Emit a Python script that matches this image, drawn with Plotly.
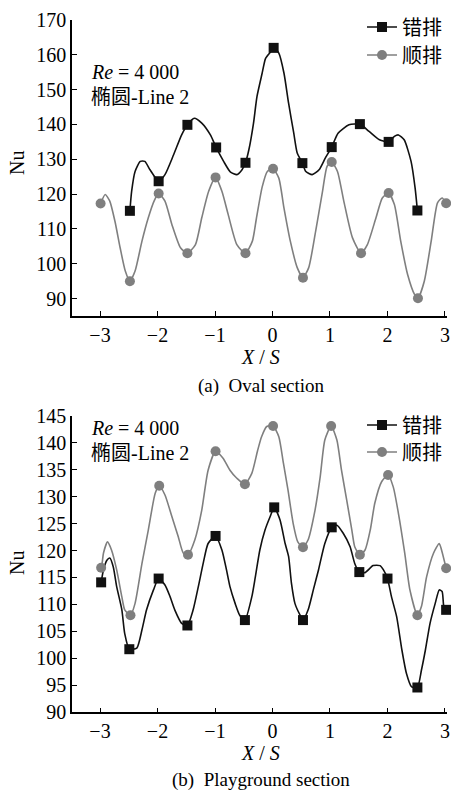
import plotly.graph_objects as go

# ---------------- data ----------------
x_ticks = [-3, -2, -1, 0, 1, 2, 3]

# (a) Oval section - staggered (错排) curve
a_stag_x = [-2.48, -2.45, -2.39, -2.30, -2.22, -2.13, -1.98, -1.87, -1.72, -1.58, -1.48, -1.36, -1.23,
            -1.08, -0.98, -0.85, -0.73, -0.62, -0.53, -0.47, -0.41, -0.33, -0.27, -0.18, -0.12, -0.03,
            0.02, 0.11, 0.20, 0.28, 0.37, 0.43, 0.52, 0.58, 0.69, 0.81, 0.92, 1.03, 1.14, 1.33, 1.52,
            1.68, 1.86, 2.02, 2.12, 2.19, 2.29, 2.41, 2.48, 2.52]
a_stag_y = [115.2, 120.8, 126.5, 129.4, 129.4, 127.0, 123.7, 125.6, 131.3, 137.0, 139.9, 141.8, 140.4,
            137.0, 133.4, 129.4, 126.3, 125.6, 127.0, 129.0, 132.8, 140.4, 148.0, 154.7, 159.0, 160.9,
            162.0, 160.5, 154.7, 146.1, 137.5, 131.8, 128.9, 126.5, 125.6, 127.0, 130.4, 133.5, 137.5, 139.9, 140.1,
            138.0, 135.6, 135.0, 136.6, 137.0, 135.6, 129.4, 121.8, 115.3]
a_stag_mx = [-2.48, -1.98, -1.48, -0.98, -0.47, 0.02, 0.52, 1.03, 1.52, 2.02, 2.52]
a_stag_my = [115.2, 123.7, 139.9, 133.4, 129.0, 162.0, 128.9, 133.5, 140.1, 135.0, 115.3]

# (a) Oval section - inline (顺排) curve
a_inl_x = [-2.99, -2.91, -2.83, -2.74, -2.65, -2.56, -2.48, -2.39, -2.27, -2.16, -2.06, -1.98, -1.87,
           -1.75, -1.60, -1.48, -1.34, -1.23, -1.11, -0.99, -0.88, -0.77, -0.62, -0.47, -0.35, -0.28,
           -0.18, -0.09, 0.01, 0.11, 0.20, 0.31, 0.43, 0.53, 0.63, 0.75, 0.87, 0.95, 1.03, 1.13, 1.24,
           1.39, 1.54, 1.65, 1.80, 1.91, 2.02, 2.12, 2.23, 2.35, 2.47, 2.53, 2.64, 2.76, 2.87, 2.95, 3.02]
a_inl_y = [117.3, 119.9, 118.0, 112.2, 104.6, 97.9, 95.0, 97.9, 106.5, 113.2, 118.0, 120.2, 118.0,
           111.3, 104.6, 103.0, 105.5, 113.2, 120.8, 124.8, 120.8, 114.1, 105.5, 103.0, 106.5, 113.0,
           122.0, 126.5, 127.3, 124.6, 116.0, 106.5, 98.9, 96.0, 98.9, 109.3, 120.8, 128.0, 129.2, 126.5, 118.0,
           107.5, 103.0, 105.5, 113.2, 118.9, 120.3, 117.0, 106.5, 96.9, 91.2, 90.1, 95.0, 106.5, 117.5, 118.9, 117.4]
a_inl_mx = [-2.99, -2.48, -1.98, -1.48, -0.99, -0.47, 0.01, 0.53, 1.03, 1.54, 2.02, 2.53, 3.02]
a_inl_my = [117.3, 95.0, 120.2, 103.0, 124.8, 103.0, 127.3, 96.0, 129.2, 103.0, 120.3, 90.1, 117.4]

# (b) Playground section - staggered (错排)
b_stag_x = [-2.98, -2.94, -2.88, -2.83, -2.77, -2.71, -2.62, -2.57, -2.49, -2.36, -2.27, -2.19, -2.07,
            -1.98, -1.87, -1.78, -1.70, -1.58, -1.48, -1.38, -1.29, -1.20, -1.12, -0.99, -0.88, -0.80,
            -0.74, -0.65, -0.57, -0.48, -0.36, -0.30, -0.22, -0.13, -0.04, 0.03, 0.13, 0.22, 0.28, 0.33,
            0.39, 0.48, 0.53, 0.62, 0.71, 0.80, 0.91, 1.03, 1.12, 1.23, 1.35, 1.43, 1.51, 1.61, 1.75,
            1.87, 1.93, 2.00, 2.07, 2.16, 2.25, 2.33, 2.42, 2.52, 2.59, 2.66, 2.74, 2.83, 2.90, 2.95,
            2.98, 3.02]
b_stag_y = [114.1, 116.4, 118.2, 118.6, 117.0, 113.3, 109.0, 104.6, 101.7, 101.9, 105.3, 109.0, 112.7,
            114.8, 113.6, 111.4, 109.0, 106.5, 106.1, 109.0, 113.3, 117.9, 121.3, 122.7, 120.1, 116.4,
            113.3, 110.2, 108.0, 107.1, 111.4, 115.0, 120.1, 123.8, 126.3, 128.0, 125.7, 121.3, 118.9, 113.9,
            110.2, 108.0, 107.1, 109.0, 112.7, 116.4, 121.3, 124.3, 124.7, 123.2, 120.7, 117.6, 116.0, 115.9, 117.2,
            117.2, 116.4, 114.8, 111.4, 107.7, 101.6, 97.2, 94.7, 94.6, 97.8, 101.6, 106.5, 110.2, 112.7, 112.4,
            109.6, 109.0]
b_stag_mx = [-2.98, -2.49, -1.98, -1.48, -0.99, -0.48, 0.03, 0.53, 1.03, 1.51, 2.00, 2.52, 3.02]
b_stag_my = [114.1, 101.7, 114.8, 106.1, 122.7, 107.1, 128.0, 107.1, 124.3, 116.0, 114.8, 94.6, 109.0]

# (b) Playground section - inline (顺排)
b_inl_x = [-2.98, -2.96, -2.94, -2.87, -2.80, -2.71, -2.62, -2.57, -2.47, -2.39, -2.27, -2.16, -2.04,
           -1.97, -1.87, -1.75, -1.64, -1.55, -1.47, -1.35, -1.23, -1.12, -0.99, -0.86, -0.74, -0.62,
           -0.48, -0.36, -0.26, -0.19, -0.10, 0.01, 0.11, 0.19, 0.27, 0.36, 0.44, 0.53, 0.62, 0.74,
           0.83, 0.91, 1.02, 1.12, 1.20, 1.29, 1.38, 1.43, 1.52, 1.61, 1.70, 1.78, 1.90, 2.01, 2.10,
           2.19, 2.30, 2.39, 2.52, 2.59, 2.68, 2.80, 2.90, 2.94, 3.02]
b_inl_y = [116.8, 117.9, 119.5, 121.6, 120.1, 116.4, 111.4, 109.0, 108.0, 110.2, 117.6, 123.8, 130.6,
           132.0, 130.3, 126.3, 122.6, 119.5, 119.2, 122.0, 127.5, 134.9, 138.4, 137.1, 134.9, 133.4,
           132.3, 134.3, 138.5, 141.1, 143.0, 143.1, 141.1, 136.2, 131.2, 125.0, 121.6, 120.6, 122.0, 127.5,
           133.7, 140.5, 143.1, 140.5, 134.9, 129.4, 123.8, 120.7, 119.2, 120.1, 123.8, 128.8, 132.8, 134.0, 131.8,
           126.9, 119.5, 112.7, 108.0, 109.6, 115.1, 119.5, 121.3, 120.1, 116.7]
b_inl_mx = [-2.98, -2.47, -1.97, -1.47, -0.99, -0.48, 0.01, 0.53, 1.02, 1.52, 2.01, 2.52, 3.02]
b_inl_my = [116.8, 108.0, 132.0, 119.2, 138.4, 132.3, 143.1, 120.6, 143.1, 119.2, 134.0, 108.0, 116.7]

series_names = ["错排", "顺排"]
captions = ["(a)\u00a0\u00a0Oval section", "(b)\u00a0\u00a0Playground section"]
note_lines = ["<i>Re</i> = 4\u00a0000", "椭圆-Line 2"]

# ---------------- styling ----------------
W, H = 451, 792
FONT = "Liberation Serif, Times New Roman, Noto Sans CJK SC, serif"
BLACK = "#111111"
GRAY = "#7f7f7f"
FS = 20

def px_x(p):
    return p / W

def px_y(p):
    return 1 - p / H

fig = go.Figure()

panels = [
    dict(xa="x", ya="y", stag=(a_stag_x, a_stag_y, a_stag_mx, a_stag_my),
         inl=(a_inl_x, a_inl_y, a_inl_mx, a_inl_my), legends=("legend", "legend2")),
    dict(xa="x2", ya="y2", stag=(b_stag_x, b_stag_y, b_stag_mx, b_stag_my),
         inl=(b_inl_x, b_inl_y, b_inl_mx, b_inl_my), legends=("legend3", "legend4")),
]

for p in panels:
    for i, (key, color, symbol, name) in enumerate([("stag", BLACK, "square", series_names[0]),
                                                    ("inl", GRAY, "circle", series_names[1])]):
        cx, cy, mx, my = p[key]
        fig.add_trace(go.Scatter(x=cx, y=cy, mode="lines", xaxis=p["xa"], yaxis=p["ya"],
                                 line=dict(color=color, width=1.6, shape="spline", smoothing=0.6),
                                 showlegend=False, hoverinfo="skip", cliponaxis=False))
        fig.add_trace(go.Scatter(x=mx, y=my, mode="markers", xaxis=p["xa"], yaxis=p["ya"],
                                 marker=dict(color=color, size=10, symbol=symbol, line=dict(width=0)),
                                 showlegend=False, cliponaxis=False))
        fig.add_trace(go.Scatter(x=[None], y=[None], mode="lines+markers", xaxis=p["xa"], yaxis=p["ya"],
                                 name=name, legend=p["legends"][i],
                                 line=dict(color=color, width=1.6),
                                 marker=dict(color=color, size=10, symbol=symbol)))

axis_common = dict(showgrid=False, zeroline=False, showline=True, linecolor="black", linewidth=1.5,
                   ticks="inside", ticklen=5, tickwidth=1.2, tickcolor="black",
                   tickfont=dict(family=FONT, size=FS, color="black"), mirror=False)

def legend_at(ypx):
    return dict(x=px_x(362), y=px_y(ypx), xanchor="left", yanchor="middle", bgcolor="rgba(0,0,0,0)",
                font=dict(family=FONT, size=FS), borderwidth=0)

def note(text, xpx, ypx, size=FS, xanchor="center", angle=0):
    return dict(text=text, x=px_x(xpx), y=px_y(ypx), xref="paper", yref="paper", xanchor=xanchor,
                yanchor="middle", textangle=angle, showarrow=False,
                font=dict(family=FONT, size=size, color="black"))

xdom = [px_x(72), px_x(447)]
fig.update_layout(
    width=W, height=H,
    margin=dict(l=0, r=0, t=0, b=0, autoexpand=False),
    paper_bgcolor="white", plot_bgcolor="white",
    font=dict(family=FONT, size=FS, color="black"),
    xaxis=dict(domain=xdom, range=[-3.487, 3.035], tickvals=x_ticks, anchor="y", **axis_common),
    yaxis=dict(domain=[px_y(316), px_y(20)], range=[85, 170], tick0=90, dtick=10, anchor="x", **axis_common),
    xaxis2=dict(domain=xdom, range=[-3.487, 3.035], tickvals=x_ticks, anchor="y2", **axis_common),
    yaxis2=dict(domain=[px_y(712.3), px_y(415.7)], range=[90, 145], tick0=90, dtick=5, anchor="x2", **axis_common),
    legend=legend_at(27), legend2=legend_at(55),
    legend3=legend_at(425), legend4=legend_at(452),
    showlegend=True,
)

annotations = []
for k, (mid, xs_y, cap_y, note_y) in enumerate([(163, 357, 386, 72), (563, 753, 780, 428)]):
    annotations.append(note("Nu", 17, mid, angle=-90))
    annotations.append(note("<i>X</i> / <i>S</i>", 260, xs_y))
    annotations.append(note(captions[k], 261, cap_y, size=19))
    annotations.append(note(note_lines[0], 89, note_y, xanchor="left"))
    annotations.append(note(note_lines[1], 89, note_y + 25, xanchor="left"))
fig.update_layout(annotations=annotations)

# remove the browser's default page margin so the figure fills the window exactly
fig.write_html("out.html", config={"displayModeBar": False},
               post_script="document.body.style.margin='0';document.body.style.overflow='hidden';")
